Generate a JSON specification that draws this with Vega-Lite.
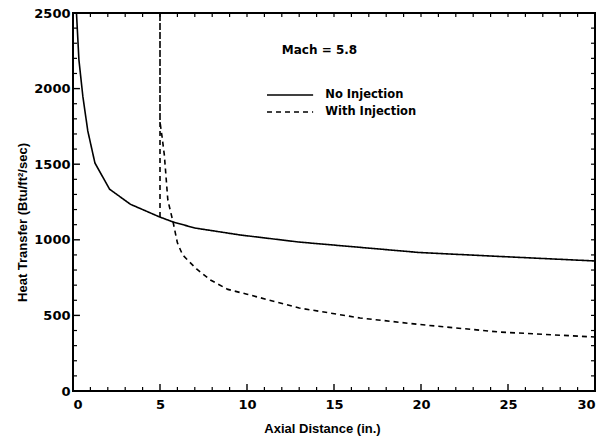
{
  "$schema": "https://vega.github.io/schema/vega-lite/v6.json",
  "width": 522,
  "height": 378,
  "autosize": {"type": "none"},
  "padding": {"left": 73, "top": 13, "right": 12, "bottom": 47},
  "background": "white",
  "config": {
    "view": {"stroke": "black", "strokeWidth": 2},
    "axis": {"grid": false, "domain": false, "ticks": false, "labelColor": "black", "titleColor": "black", "labelFont": "DejaVu Sans", "titleFont": "Liberation Sans", "labelFontWeight": "bold", "titleFontWeight": "bold"}
  },
  "datasets": {
    "curves": [
      {"s": "No Injection", "i": 1, "x": 0.2, "y": 2500},
      {"s": "No Injection", "i": 2, "x": 0.34, "y": 2190},
      {"s": "No Injection", "i": 3, "x": 0.57, "y": 1945},
      {"s": "No Injection", "i": 4, "x": 0.85, "y": 1720},
      {"s": "No Injection", "i": 5, "x": 1.26, "y": 1508},
      {"s": "No Injection", "i": 6, "x": 2.1, "y": 1335},
      {"s": "No Injection", "i": 7, "x": 3.3, "y": 1235},
      {"s": "No Injection", "i": 8, "x": 5.0, "y": 1150},
      {"s": "No Injection", "i": 9, "x": 5.75, "y": 1118},
      {"s": "No Injection", "i": 10, "x": 7.0, "y": 1078},
      {"s": "No Injection", "i": 11, "x": 9.6, "y": 1032},
      {"s": "No Injection", "i": 12, "x": 13.0, "y": 985},
      {"s": "No Injection", "i": 13, "x": 16.5, "y": 950},
      {"s": "No Injection", "i": 14, "x": 19.9, "y": 916},
      {"s": "No Injection", "i": 15, "x": 24.5, "y": 890},
      {"s": "No Injection", "i": 16, "x": 30, "y": 860},
      {"s": "With Injection", "i": 1, "x": 5.0, "y": 1150},
      {"s": "With Injection", "i": 2, "x": 5.0, "y": 2500},
      {"s": "With Injection", "i": 3, "x": 5.0, "y": 1780},
      {"s": "With Injection", "i": 4, "x": 5.12, "y": 1680},
      {"s": "With Injection", "i": 5, "x": 5.25, "y": 1560},
      {"s": "With Injection", "i": 6, "x": 5.45, "y": 1263},
      {"s": "With Injection", "i": 7, "x": 5.75, "y": 1118},
      {"s": "With Injection", "i": 8, "x": 6.0, "y": 980},
      {"s": "With Injection", "i": 9, "x": 6.3, "y": 900},
      {"s": "With Injection", "i": 10, "x": 7.1, "y": 807},
      {"s": "With Injection", "i": 11, "x": 7.9, "y": 734},
      {"s": "With Injection", "i": 12, "x": 8.9, "y": 672},
      {"s": "With Injection", "i": 13, "x": 10.0, "y": 640},
      {"s": "With Injection", "i": 14, "x": 13.0, "y": 549},
      {"s": "With Injection", "i": 15, "x": 16.5, "y": 483},
      {"s": "With Injection", "i": 16, "x": 19.9, "y": 440},
      {"s": "With Injection", "i": 17, "x": 24.5, "y": 390},
      {"s": "With Injection", "i": 18, "x": 30, "y": 357}
    ],
    "keys": [
      {"s": "No Injection", "x": 11.15, "x2": 13.8, "y": 1958},
      {"s": "With Injection", "x": 11.15, "x2": 13.8, "y": 1845}
    ],
    "notes": [
      {"t": "No Injection", "x": 14.5, "y": 1958, "f": 11.5},
      {"t": "With Injection", "x": 14.5, "y": 1845, "f": 11.5},
      {"t": "Mach = 5.8", "x": 12.0, "y": 2255, "f": 12}
    ],
    "xticks": [
      {"v": 0, "k": "major"}, {"v": 1, "k": "minor"}, {"v": 2, "k": "minor"}, {"v": 3, "k": "minor"}, {"v": 4, "k": "minor"},
      {"v": 5, "k": "major"}, {"v": 6, "k": "minor"}, {"v": 7, "k": "minor"}, {"v": 8, "k": "minor"}, {"v": 9, "k": "minor"},
      {"v": 10, "k": "major"}, {"v": 11, "k": "minor"}, {"v": 12, "k": "minor"}, {"v": 13, "k": "minor"}, {"v": 14, "k": "minor"},
      {"v": 15, "k": "major"}, {"v": 16, "k": "minor"}, {"v": 17, "k": "minor"}, {"v": 18, "k": "minor"}, {"v": 19, "k": "minor"},
      {"v": 20, "k": "major"}, {"v": 21, "k": "minor"}, {"v": 22, "k": "minor"}, {"v": 23, "k": "minor"}, {"v": 24, "k": "minor"},
      {"v": 25, "k": "major"}, {"v": 26, "k": "minor"}, {"v": 27, "k": "minor"}, {"v": 28, "k": "minor"}, {"v": 29, "k": "minor"},
      {"v": 30, "k": "major"}
    ],
    "yticks": [
      {"v": 0, "k": "major"}, {"v": 100, "k": "minor"}, {"v": 200, "k": "minor"}, {"v": 300, "k": "minor"}, {"v": 400, "k": "minor"},
      {"v": 500, "k": "major"}, {"v": 600, "k": "minor"}, {"v": 700, "k": "minor"}, {"v": 800, "k": "minor"}, {"v": 900, "k": "minor"},
      {"v": 1000, "k": "major"}, {"v": 1100, "k": "minor"}, {"v": 1200, "k": "minor"}, {"v": 1300, "k": "minor"}, {"v": 1400, "k": "minor"},
      {"v": 1500, "k": "major"}, {"v": 1600, "k": "minor"}, {"v": 1700, "k": "minor"}, {"v": 1800, "k": "minor"}, {"v": 1900, "k": "minor"},
      {"v": 2000, "k": "major"}, {"v": 2100, "k": "minor"}, {"v": 2200, "k": "minor"}, {"v": 2300, "k": "minor"}, {"v": 2400, "k": "minor"},
      {"v": 2500, "k": "major"}
    ]
  },
  "layer": [
    {
      "data": {"name": "curves"},
      "mark": {"type": "line", "color": "black", "strokeWidth": 1.6, "clip": true},
      "encoding": {
        "x": {"field": "x", "type": "quantitative", "scale": {"domain": [0, 30], "nice": false},
          "axis": {"orient": "bottom", "values": [0, 5, 10, 15, 20, 25, 30], "format": "d", "labelFontSize": 13, "labelPadding": 7, "title": "Axial Distance (in.)", "titleFontSize": 13, "titlePadding": 11, "titleX": 249}},
        "y": {"field": "y", "type": "quantitative", "scale": {"domain": [0, 2500], "nice": false},
          "axis": {"orient": "left", "values": [0, 500, 1000, 1500, 2000, 2500], "format": "d", "labelFontSize": 13, "labelPadding": 3, "title": "Heat Transfer (Btu/ft²/sec)", "titleFontSize": 13, "titlePadding": 4, "titleY": 209}},
        "detail": {"field": "s"},
        "order": {"field": "i", "type": "quantitative"},
        "strokeDash": {"field": "s", "type": "nominal", "scale": {"domain": ["No Injection", "With Injection"], "range": [[1, 0], [5, 4]]}, "legend": null}
      }
    },
    {
      "data": {"name": "keys"},
      "mark": {"type": "rule", "color": "black", "strokeWidth": 1.6},
      "encoding": {
        "x": {"field": "x", "type": "quantitative", "title": "Axial Distance (in.)"},
        "x2": {"field": "x2"},
        "y": {"field": "y", "type": "quantitative", "title": "Heat Transfer (Btu/ft²/sec)"},
        "strokeDash": {"field": "s", "type": "nominal", "scale": {"domain": ["No Injection", "With Injection"], "range": [[1, 0], [5, 4]]}, "legend": null}
      }
    },
    {
      "data": {"name": "notes"},
      "mark": {"type": "text", "align": "left", "baseline": "middle", "font": "DejaVu Sans", "fontWeight": "bold", "color": "black"},
      "encoding": {
        "x": {"field": "x", "type": "quantitative", "title": "Axial Distance (in.)"},
        "y": {"field": "y", "type": "quantitative", "title": "Heat Transfer (Btu/ft²/sec)"},
        "text": {"field": "t"},
        "size": {"field": "f", "type": "quantitative", "scale": null, "legend": null}
      }
    },
    {
      "data": {"name": "xticks"},
      "transform": [{"filter": "datum.k == 'major'"}],
      "mark": {"type": "rule", "color": "black", "strokeWidth": 1.4},
      "encoding": {
        "x": {"field": "v", "type": "quantitative", "title": "Axial Distance (in.)"},
        "y": {"datum": 0, "type": "quantitative", "title": "Heat Transfer (Btu/ft²/sec)"},
        "y2": {"datum": 46}
      }
    },
    {
      "data": {"name": "xticks"},
      "transform": [{"filter": "datum.k == 'minor'"}],
      "mark": {"type": "rule", "color": "black", "strokeWidth": 1.2},
      "encoding": {
        "x": {"field": "v", "type": "quantitative", "title": "Axial Distance (in.)"},
        "y": {"datum": 0, "type": "quantitative", "title": "Heat Transfer (Btu/ft²/sec)"},
        "y2": {"datum": 26}
      }
    },
    {
      "data": {"name": "xticks"},
      "mark": {"type": "rule", "color": "black", "strokeWidth": 1.2},
      "encoding": {
        "x": {"field": "v", "type": "quantitative", "title": "Axial Distance (in.)"},
        "y": {"datum": 2500, "type": "quantitative", "title": "Heat Transfer (Btu/ft²/sec)"},
        "y2": {"datum": 2474}
      }
    },
    {
      "data": {"name": "yticks"},
      "transform": [{"filter": "datum.k == 'major'"}],
      "mark": {"type": "rule", "color": "black", "strokeWidth": 1.4},
      "encoding": {
        "y": {"field": "v", "type": "quantitative", "title": "Heat Transfer (Btu/ft²/sec)"},
        "x": {"datum": 0, "type": "quantitative", "title": "Axial Distance (in.)"},
        "x2": {"datum": 0.4}
      }
    },
    {
      "data": {"name": "yticks"},
      "transform": [{"filter": "datum.k == 'minor'"}],
      "mark": {"type": "rule", "color": "black", "strokeWidth": 1.2},
      "encoding": {
        "y": {"field": "v", "type": "quantitative", "title": "Heat Transfer (Btu/ft²/sec)"},
        "x": {"datum": 0, "type": "quantitative", "title": "Axial Distance (in.)"},
        "x2": {"datum": 0.23}
      }
    },
    {
      "data": {"name": "yticks"},
      "mark": {"type": "rule", "color": "black", "strokeWidth": 1.2},
      "encoding": {
        "y": {"field": "v", "type": "quantitative", "title": "Heat Transfer (Btu/ft²/sec)"},
        "x": {"datum": 30, "type": "quantitative", "title": "Axial Distance (in.)"},
        "x2": {"datum": 29.77}
      }
    }
  ]
}
